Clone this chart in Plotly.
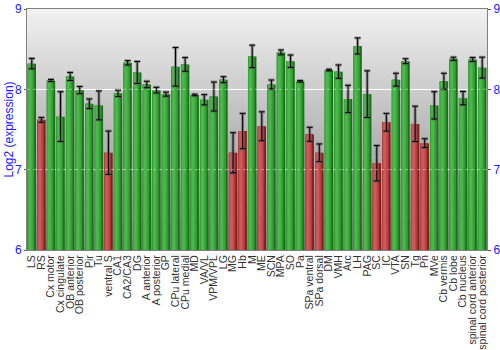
import plotly.graph_objects as go

# Brain regions and mean log2 expression with error estimates
regions = [
    "LS", "RS", "Cx motor", "Cx cingulate", "OB anterior", "OB posterior", "Pir", "Tu",
    "ventral S", "CA1", "CA2/CA3", "DG", "A anterior", "A posterior", "GP", "CPu lateral",
    "CPu medial", "MD", "VA/VL", "VPM/VPL", "LG", "MG", "Hb", "M", "ME", "SCN", "MPA",
    "SO", "Pa", "SPa ventral", "SPa dorsal", "DM", "VMH", "Arc", "LH", "PAG", "SC", "IC",
    "VTA", "SN", "Tg", "Pn", "MVe", "Cb vermis", "Cb lobe", "Cb nucleus",
    "spinal cord anterior", "spinal cord posterior",
]
expression = [
    8.32, 7.62, 8.11, 7.66, 8.16, 7.99, 7.82, 7.80,
    7.21, 7.95, 8.33, 8.21, 8.06, 7.99, 7.94, 8.28,
    8.31, 7.93, 7.87, 7.91, 8.12, 7.21, 7.48, 8.41, 7.54, 8.06, 8.46,
    8.35, 8.10, 7.44, 7.21, 8.24, 8.22, 7.88, 8.54, 7.94, 7.08, 7.59,
    8.12, 8.35, 7.57, 7.33, 7.80, 8.10, 8.38, 7.89,
    8.37, 8.27,
]
error = [
    0.065, 0.03, 0.013, 0.31, 0.05, 0.045, 0.06, 0.18,
    0.27, 0.04, 0.027, 0.137, 0.04, 0.035, 0.025, 0.24,
    0.085, 0.01, 0.064, 0.18, 0.037, 0.25, 0.22, 0.14, 0.18, 0.056, 0.03,
    0.077, 0.01, 0.087, 0.11, 0.01, 0.083, 0.17, 0.10, 0.29, 0.22, 0.11,
    0.08, 0.03, 0.22, 0.055, 0.17, 0.10, 0.02, 0.083,
    0.025, 0.13,
]
low_regions = ["RS", "ventral S", "MG", "Hb", "ME", "SPa ventral", "SPa dorsal",
               "SC", "IC", "Tg", "Pn"]
y_ticks = [6, 7, 8, 9]

# Shades for the cylinder-like bar fill, darkest first
green_shades = ["#1b6f1b", "#2f9a2f", "#3ba83b", "#4cb84c"]
red_shades = ["#7a1e1e", "#b23a3a", "#c04848", "#cc5a5a"]
layers = [(-0.44, 0.88), (-0.44, 0.70), (-0.41, 0.52), (-0.33, 0.30)]

blue = "#1a1aff"
font_family = "Liberation Sans, Arial, sans-serif"

fig = go.Figure()

for k, (off, w) in enumerate(layers):
    colors = [red_shades[k] if r in low_regions else green_shades[k] for r in regions]
    fig.add_trace(go.Bar(
        x=regions, y=[v - 6 for v in expression], base=6,
        offset=off, width=w, marker=dict(color=colors, line=dict(width=0)),
        showlegend=False, hoverinfo="skip",
    ))

# Error bars: soft grey halo under a thin black line
for col, thick in [("rgba(90,90,90,0.55)", 3), ("#000000", 1)]:
    fig.add_trace(go.Bar(
        x=regions, y=[v - 6 for v in expression], base=6,
        offset=-0.44, width=0.88,
        marker=dict(color="rgba(0,0,0,0)", line=dict(width=0)),
        error_y=dict(type="data", array=error, color=col, thickness=thick, width=3),
        showlegend=False, hoverinfo="skip",
    ))

# Vertical grey gradient behind the plot area
n_bands = 60
top_c, bot_c = 242, 130
shapes = []
for i in range(n_bands):
    t = (i + 0.5) / n_bands
    g = int(round(top_c + (bot_c - top_c) * t))
    shapes.append(dict(
        type="rect", xref="paper", yref="paper",
        x0=0, x1=1, y0=1 - (i + 1) / n_bands, y1=1 - i / n_bands + 0.002,
        fillcolor=f"rgb({g},{g},{g})", line=dict(width=0), layer="below",
    ))
# Faint grid lines drawn over the bars
for yv in [7, 8]:
    shapes.append(dict(
        type="line", xref="paper", yref="y", x0=0, x1=1, y0=yv, y1=yv,
        line=dict(color="rgba(255,255,255,0.4)", width=1, dash="dot"), layer="above",
    ))

fig.update_layout(
    width=500, height=350,
    margin=dict(l=27, r=13, t=9, b=100),
    paper_bgcolor="white", plot_bgcolor="rgba(0,0,0,0)",
    barmode="overlay", bargap=0.1,
    shapes=shapes,
    font=dict(family=font_family),
    xaxis=dict(
        type="category", tickangle=-90, showgrid=False,
        tickmode="array", tickvals=regions, ticktext=regions,
        tickfont=dict(size=10.5, color="#333333", family=font_family),
        showline=True, linecolor="#808080", mirror=True, ticks="",
        ticklabelstandoff=0,
        range=[-0.5, len(regions) - 0.5], automargin=False,
    ),
    yaxis=dict(
        range=[6, 9], tickvals=y_ticks, showgrid=True, gridcolor="white", gridwidth=1,
        tickfont=dict(size=12, color=blue, family=font_family),
        showline=True, linecolor="#808080", mirror=True,
        ticks="outside", ticklen=2, tickcolor="#555555", zeroline=False,
        automargin=False,
    ),
    yaxis2=dict(
        range=[6, 9], tickvals=y_ticks, overlaying="y", side="right", showgrid=False,
        tickfont=dict(size=12, color=blue, family=font_family),
        ticks="outside", ticklen=3, tickcolor="#555555", showline=False, zeroline=False,
        automargin=False,
    ),
    annotations=[dict(
        text="Log2 (expression)", textangle=-90, showarrow=False,
        xref="paper", yref="paper", x=-19 / 460, y=0.5, xanchor="center", yanchor="middle",
        font=dict(size=12, color=blue, family=font_family),
    )],
)

# Invisible companion trace so the right-hand axis is drawn
fig.add_trace(go.Scatter(x=[regions[0]], y=[None], yaxis="y2", showlegend=False,
                         hoverinfo="skip", mode="markers"))

fig.write_html("out.html")
